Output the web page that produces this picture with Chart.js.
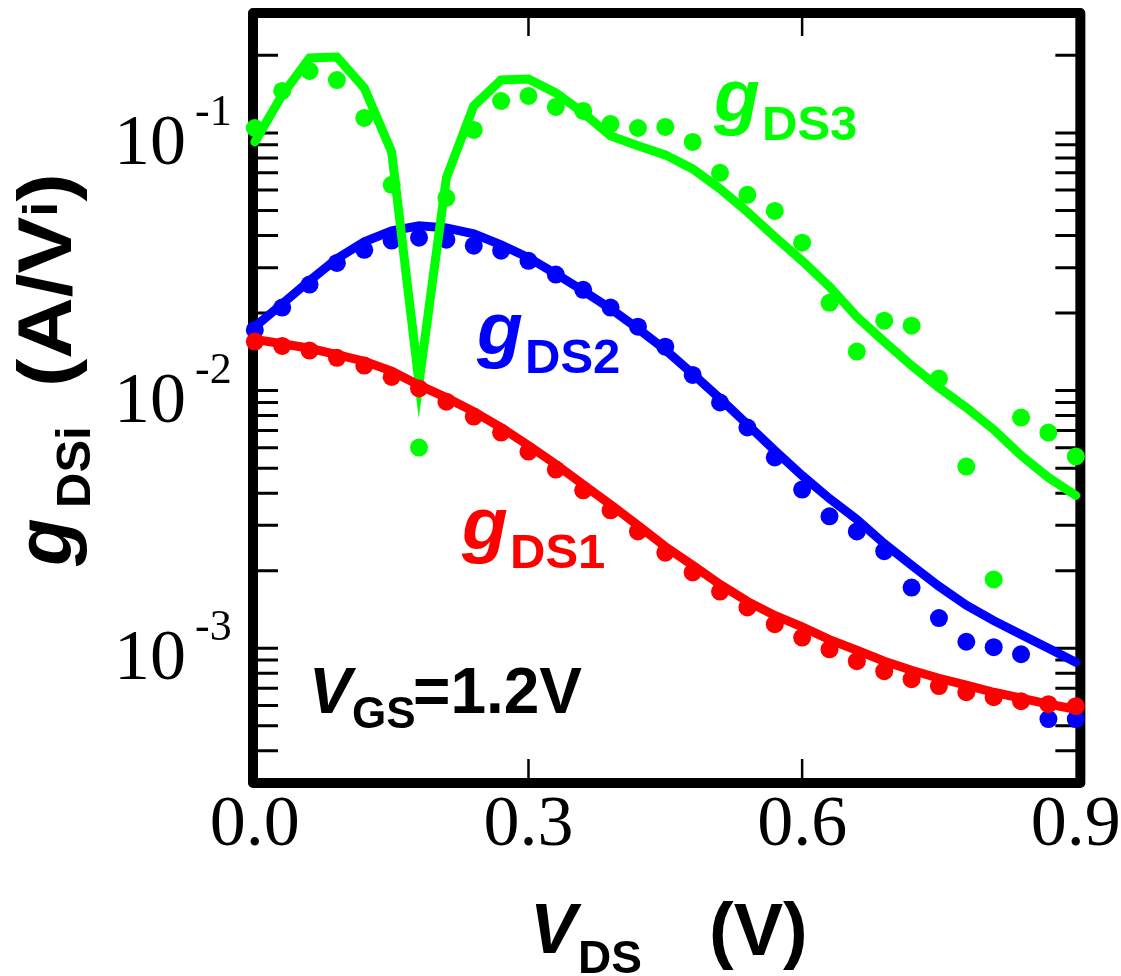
<!DOCTYPE html>
<html>
<head>
<meta charset="utf-8">
<script src="https://cdn.jsdelivr.net/npm/chart.js@4/dist/chart.umd.min.js"></script>
<style>
  html, body { margin: 0; padding: 0; background: #fff; }
</style>
</head>
<body>
<canvas id="gdsChart" width="1121" height="976"></canvas>
<script>
// V_DS sweep (V)
const VDS = [0.00, 0.03, 0.06, 0.09, 0.12, 0.15, 0.18, 0.21, 0.24, 0.27, 0.30,
  0.33, 0.36, 0.39, 0.42, 0.45, 0.48, 0.51, 0.54, 0.57, 0.60,
  0.63, 0.66, 0.69, 0.72, 0.75, 0.78, 0.81, 0.84, 0.87, 0.90];

// gDS1 (red)
const GDS1_MEAS = [0.0155, 0.0149, 0.0143, 0.0134, 0.0125, 0.0113, 0.0102, 0.00906, 0.00793, 0.00687, 0.00580,
  0.00494, 0.00410, 0.00343, 0.00284, 0.00235, 0.00197, 0.00166, 0.00144, 0.00124, 0.00110,
  0.000991, 0.000891, 0.000815, 0.000759, 0.000713, 0.000675, 0.000646, 0.000623, 0.000607, 0.000596];
const GDS1_MODEL = [0.0158, 0.0152, 0.0146, 0.0138, 0.0130, 0.0119, 0.0105, 0.00939, 0.00829, 0.00719, 0.00612,
  0.00517, 0.00432, 0.00361, 0.00300, 0.00248, 0.00210, 0.00177, 0.00152, 0.00134, 0.00121,
  0.00108, 0.000982, 0.000891, 0.000822, 0.000765, 0.000719, 0.000675, 0.000640, 0.000607, 0.000580];

// gDS2 (blue)
const GDS2_MEAS = [0.0172, 0.0210, 0.0258, 0.0313, 0.0352, 0.0382, 0.0392, 0.0385, 0.0365, 0.0349, 0.0319,
  0.0282, 0.0246, 0.0210, 0.0177, 0.0148, 0.0115, 0.00899, 0.00719, 0.00550, 0.00413,
  0.00325, 0.00284, 0.00238, 0.00172, 0.00131, 0.00106, 0.00101, 0.000948, 0.000531, 0.000531];
const GDS2_MODEL = [0.0177, 0.0217, 0.0267, 0.0325, 0.0378, 0.0417, 0.0436, 0.0428, 0.0406, 0.0368, 0.0328,
  0.0284, 0.0244, 0.0208, 0.0174, 0.0144, 0.0116, 0.00931, 0.00738, 0.00585, 0.00468,
  0.00381, 0.00316, 0.00255, 0.00210, 0.00174, 0.00147, 0.00128, 0.00113, 0.00100, 0.000882];

// gDS3 (green)
const GDS3_MEAS = [0.1045, 0.1455, 0.1739, 0.1604, 0.1143, 0.0629, 0.00601, 0.0560, 0.1027, 0.1330, 0.1391,
  0.1261, 0.1217, 0.1084, 0.1045, 0.1055, 0.0923, 0.0700, 0.0575, 0.0498, 0.0375,
  0.0219, 0.01417, 0.01868, 0.01786, 0.01113, 0.00507, 0.00185, 0.00786, 0.00687, 0.00555];
const GDS3_MODEL = [0.0923, 0.1404, 0.1953, 0.1970, 0.1494, 0.0844, 0.01074, 0.0669, 0.1273, 0.1604, 0.1619,
  0.1429, 0.1196, 0.0974, 0.0891, 0.0822, 0.0725, 0.0607, 0.0494, 0.0395, 0.0319,
  0.0253, 0.01935, 0.01548, 0.01250, 0.01027, 0.00859, 0.00706, 0.00560, 0.00460, 0.00392];

// axis ticks
const X_LABELS = [0.0, 0.3, 0.6, 0.9];
const X_INNER_TICKS = [0.3, 0.6];
const Y_DECADES = [1e-1, 1e-2, 1e-3];
const Y_EXPONENTS = ["-1", "-2", "-3"];
const Y_INNER_TICKS = [4e-4, 5e-4, 6e-4, 7e-4, 8e-4, 9e-4,
  1e-3, 2e-3, 3e-3, 4e-3, 5e-3, 6e-3, 7e-3, 8e-3, 9e-3,
  1e-2, 2e-2, 3e-2, 4e-2, 5e-2, 6e-2, 7e-2, 8e-2, 9e-2,
  1e-1, 2e-1];

const RED = "#ff0000";
const BLUE = "#0000ff";
const GREEN = "#00ff00";
const SANS = "'Liberation Sans', Arial, sans-serif";
const SERIF = "'Liberation Serif', 'Times New Roman', serif";

const toPoints = (ys) => VDS.map((x, i) => ({ x: x, y: ys[i] }));

const dots = (ys, color, order) => ({
  data: toPoints(ys),
  showLine: false,
  pointRadius: 9,
  pointHoverRadius: 9,
  pointBorderWidth: 0,
  backgroundColor: color,
  borderColor: color,
  clip: false,
  order: order,
});

const curve = (ys, color, order) => ({
  data: toPoints(ys),
  showLine: true,
  pointRadius: 0,
  borderWidth: 9,
  borderColor: color,
  borderCapStyle: "round",
  clip: false,
  order: order,
});

// draw text pieces one after another along the baseline
const drawRuns = (ctx, x, y, runs) => {
  let cx = x;
  for (const r of runs) {
    ctx.font = r.font;
    ctx.fillText(r.text, cx, y + (r.dy || 0));
    cx += ctx.measureText(r.text).width;
  }
};

const framePlugin = {
  id: "frame",
  beforeDatasetsDraw(chart) {
    const { ctx, chartArea: a, scales } = chart;
    ctx.save();
    ctx.strokeStyle = "#000";
    ctx.lineWidth = 3;
    ctx.beginPath();
    for (const v of Y_INNER_TICKS) {
      const py = scales.y.getPixelForValue(v);
      ctx.moveTo(a.left, py);
      ctx.lineTo(a.left + 25, py);
      ctx.moveTo(a.right, py);
      ctx.lineTo(a.right - 25, py);
    }
    ctx.stroke();
    ctx.lineWidth = 2.5;
    ctx.beginPath();
    for (const v of X_INNER_TICKS) {
      const px = scales.x.getPixelForValue(v);
      ctx.moveTo(px, a.bottom);
      ctx.lineTo(px, a.bottom - 24);
      ctx.moveTo(px, a.top);
      ctx.lineTo(px, a.top + 23);
    }
    ctx.stroke();
    ctx.lineWidth = 10;
    ctx.lineJoin = "round";
    ctx.strokeRect(a.left, a.top, a.right - a.left, a.bottom - a.top);
    ctx.restore();
  },
  afterDraw(chart) {
    const { ctx, chartArea: a, scales } = chart;
    ctx.save();
    ctx.fillStyle = "#000";
    ctx.textBaseline = "alphabetic";
    ctx.textAlign = "left";

    // y tick labels 10^n
    Y_DECADES.forEach((v, i) => {
      const py = scales.y.getPixelForValue(v);
      ctx.font = "72px " + SERIF;
      ctx.fillText("10", a.left - 139, py + 31);
      ctx.font = "44px " + SERIF;
      ctx.fillText(Y_EXPONENTS[i], a.left - 58, py - 8);
    });

    // y axis title (rotated)
    ctx.save();
    ctx.translate(71, 0);
    ctx.rotate(-Math.PI / 2);
    drawRuns(ctx, -566, 0, [
      { text: "g", font: "italic bold 78px " + SANS },
    ]);
    drawRuns(ctx, -508, 0, [
      { text: "DS", font: "bold 49px " + SANS, dy: 19 },
      { text: "i", font: "bold 49px " + SANS, dy: 19 },
    ]);
    ctx.save();
    ctx.translate(-387, 0);
    ctx.scale(1.12, 1);
    drawRuns(ctx, 0, 0, [
      { text: "(A/V", font: "bold 76px " + SANS },
      { text: "i", font: "bold 49px " + SANS, dy: -14 },
      { text: ")", font: "bold 76px " + SANS },
    ]);
    ctx.restore();
    ctx.restore();

    // x axis title
    drawRuns(ctx, 530, 953, [
      { text: "V", font: "italic bold 70px " + SANS },
    ]);
    drawRuns(ctx, 578, 973, [
      { text: "DS", font: "bold 46px " + SANS },
    ]);
    drawRuns(ctx, 709, 955, [
      { text: "(V)", font: "bold 74px " + SANS },
    ]);

    // curve labels
    const label = (color, x, y, sub) => {
      ctx.fillStyle = color;
      drawRuns(ctx, x, y, [{ text: "g", font: "italic bold 75px " + SANS }]);
      drawRuns(ctx, x + 48, y + 19, [{ text: sub, font: "bold 49px " + SANS }]);
    };
    label(GREEN, 714, 121, "DS3");
    label(BLUE, 477, 354, "DS2");
    label(RED, 462, 549, "DS1");

    ctx.fillStyle = "#000";
    drawRuns(ctx, 309, 713, [{ text: "V", font: "italic bold 64px " + SANS }]);
    drawRuns(ctx, 352, 728, [{ text: "GS", font: "bold 44px " + SANS }]);
    drawRuns(ctx, 413, 713, [{ text: "=1.2V", font: "bold 64px " + SANS }]);

    ctx.restore();
  },
};

new Chart(document.getElementById("gdsChart").getContext("2d"), {
  type: "scatter",
  data: {
    datasets: [
      dots(GDS1_MEAS, RED, 0),
      curve(GDS1_MODEL, RED, 1),
      dots(GDS3_MEAS, GREEN, 2),
      curve(GDS3_MODEL, GREEN, 3),
      dots(GDS2_MEAS, BLUE, 4),
      curve(GDS2_MODEL, BLUE, 5),
    ],
  },
  options: {
    responsive: false,
    animation: false,
    events: [],
    layout: { padding: { top: 13, right: 39, bottom: 0, left: 0 } },
    plugins: { legend: { display: false }, tooltip: { enabled: false } },
    scales: {
      x: {
        type: "linear",
        min: -0.002,
        max: 0.905,
        grid: { display: false, drawTicks: false },
        border: { display: false },
        afterBuildTicks: (scale) => {
          scale.ticks = X_LABELS.map((v) => ({ value: v }));
        },
        afterFit: (scale) => {
          scale.height = 193;
        },
        ticks: {
          autoSkip: false,
          maxRotation: 0,
          padding: 0,
          color: "#000",
          font: { family: "'Liberation Serif'", size: 72 },
          callback: (v) => Number(v).toFixed(1),
        },
      },
      y: {
        type: "logarithmic",
        min: 3.03e-4,
        max: 0.292,
        grid: { display: false, drawTicks: false },
        border: { display: false },
        ticks: { display: false },
        afterFit: (scale) => {
          scale.width = 253;
        },
      },
    },
  },
  plugins: [framePlugin],
});
</script>
</body>
</html>
